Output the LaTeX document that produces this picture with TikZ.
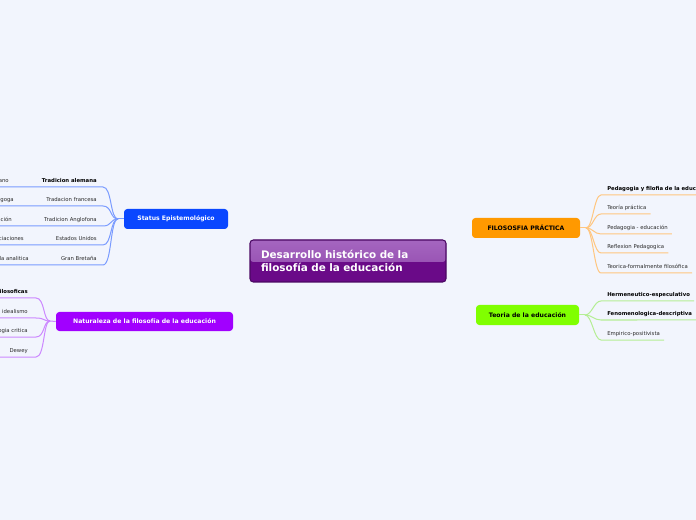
\documentclass[tikz,border=0pt]{standalone}
\usepackage{fontspec}
\setmainfont{DejaVu Sans}
\usetikzlibrary{calc}
\pgfdeclarelayer{bg}
\pgfsetlayers{bg,main}
\definecolor{bgc}{HTML}{F2F5FD}
\definecolor{bluebox}{HTML}{0A47FF}
\definecolor{bluecon}{HTML}{2F5BFF}
\definecolor{bluelf}{HTML}{7A9BFF}
\definecolor{purbox}{HTML}{A100FF}
\definecolor{purcon}{HTML}{A52AF5}
\definecolor{purlf}{HTML}{CC88FF}
\definecolor{orbox}{HTML}{FF9900}
\definecolor{orcon}{HTML}{FFA126}
\definecolor{orlf}{HTML}{FFC680}
\definecolor{grbox}{HTML}{80FF00}
\definecolor{grcon}{HTML}{8CF53A}
\definecolor{grlf}{HTML}{B5EE95}
\definecolor{mainborder}{HTML}{4B0863}
\definecolor{maindark}{HTML}{6A0A88}
\definecolor{mainlighta}{HTML}{A566C0}
\definecolor{mainlightb}{HTML}{8F45AB}
\definecolor{leafc}{HTML}{2A2A2A}
\tikzset{
  mainbox/.style={draw=mainborder, line width=0.8pt, rounded corners=2.5pt, fill=maindark,
    minimum width=147pt, minimum height=31.5pt, inner xsep=8.25pt, inner ysep=0pt,
    text width=130.5pt, align=left, text=white,
    font=\bfseries\fontsize{7.8}{9.75}\selectfont,
    path picture={\shade[top color=mainlighta, bottom color=mainlightb]
      (path picture bounding box.north west) rectangle ($(path picture bounding box.east)+(0,1)$);}},
  branch/.style={rounded corners=2.5pt, minimum height=15pt, inner sep=0pt,
    font=\bfseries\fontsize{4.6}{5.5}\selectfont},
  lf/.style={inner sep=0pt, text=leafc, font=\fontsize{4}{5}\selectfont},
  lfb/.style={inner sep=0pt, text=black, font=\bfseries\fontsize{4}{5}\selectfont},
  con/.style={line width=0.9pt},
  lfline/.style={line width=0.75pt},
}
\begin{document}
\begin{tikzpicture}[x=0.75pt,y=-0.75pt]
\useasboundingbox (0,0) rectangle (696,520);
\fill[bgc] (0,0) rectangle (696,520);
\clip (0,0) rectangle (696,520);

% main and branch nodes
\node[mainbox] (main) at (348,261) {Desarrollo histórico de la\\filosofía de la educación};
\node[branch, fill=bluebox, text=white, minimum width=78pt] (stat) at (176,219) {Status Epistemológico};
\node[branch, fill=purbox, text=white, minimum width=132.75pt, minimum height=14.25pt] (nat) at (144.5,321.5) {Naturaleza de la filosofía de la educación};
\node[branch, fill=orbox, text=black, minimum width=81pt] (fil) at (526,228) {FILOSOSFIA PRÁCTICA};
\node[branch, fill=grbox, text=black, minimum width=77.25pt] (teo) at (527.5,315) {Teoria de la educación};

\begin{pgfonlayer}{bg}
\draw[con, bluecon] (stat.east) .. controls (290,219) and (330,236) .. (main.center);
\draw[con, orcon] (fil.west) .. controls (420,228) and (368,240) .. (main.center);
\draw[con, purcon] (nat.east) .. controls (290,321) and (335,292) .. (main.center);
\draw[con, grcon] (teo.west) .. controls (420,315) and (368,292) .. (main.center);
\end{pgfonlayer}

% Status leaves
\coordinate (sj) at (118,219);
\draw[lfline, bluelf] (stat.west) -- (sj);
\foreach \n/\y/\st/\t/\fx/\fr in {
  sa/181/lfb/Tradicion alemana/9/ano,
  sb/200/lf/Tradacion francesa/14/agoga,
  sc/220/lf/Tradicion Anglofona/12/ación,
  sd/239/lf/Estados Unidos/24/ciaciones,
  se/259/lf/Gran Bretaña/29/la analitica}{
  \node[\st, anchor=base east] (\n) at (97,\y+1.8) {\t};
  \node[lf, anchor=base east] (\n f) at (\fx,\y+1.8) {\fr};
  \coordinate (\n r) at (103,\y+6);
  \coordinate (\n l) at (-2,\y+6);
  \draw[lfline, bluelf] (sj) .. controls (110,219) and (112,\y+6) .. (\n r) -- (\n l);
}

% Naturaleza leaves
\coordinate (nj) at (50,321);
\draw[lfline, purlf] (nat.west) -- (nj);
\foreach \n/\y/\st/\t in {
  na/292/lfb/ilosoficas,
  nb/312/lf/idealismo,
  nc/331/lf/ogia critica,
  nd/351/lf/Dewey}{
  \node[\st, anchor=base east] (\n) at (28,\y+1.8) {\t};
  \coordinate (\n r) at (36,\y+6);
  \coordinate (\n l) at (-2,\y+6);
  \draw[lfline, purlf] (nj) .. controls (43,321) and (45,\y+6) .. (\n r) -- (\n l);
}

% FILOSOFIA leaves
\coordinate (fj) at (586,228);
\draw[lfline, orlf] (fil.east) -- (fj);
\foreach \n/\y/\st/\t in {
  fa/189/lfb/Pedagogia y filofia de la educación,
  fb/208/lf/Teoría práctica,
  fc/228/lf/Pedagogia - educación,
  fd/247/lf/Reflexion Pedagogica,
  fe/267/lf/Teorica-formalmente filosófica}{
  \node[\st, anchor=base west] (\n) at (607,\y+1.8) {\t};
  \coordinate (\n l) at (601,\y+6);
  \coordinate (\n r) at ($(\n.base east)+(4,4.2)$);
  \draw[lfline, orlf] (fj) .. controls (593,228) and (594,\y+6) .. (\n l) -- (\n r);
}

% Teoria leaves
\coordinate (tj) at (585,315);
\draw[lfline, grlf] (teo.east) -- (tj);
\foreach \n/\y/\st/\t in {
  ta/295/lfb/Hermeneutico-especulativo,
  tb/314/lfb/Fenomenologica-descriptiva,
  tc/334/lf/Empirico-positivista}{
  \node[\st, anchor=base west] (\n) at (607,\y+1.8) {\t};
  \coordinate (\n l) at (601,\y+6);
  \coordinate (\n r) at ($(\n.base east)+(4,4.2)$);
  \draw[lfline, grlf] (tj) .. controls (592,315) and (594,\y+6) .. (\n l) -- (\n r);
}
\end{tikzpicture}
\end{document}
